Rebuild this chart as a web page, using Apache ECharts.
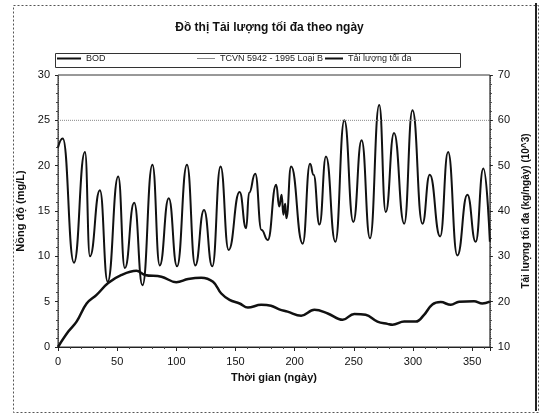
<!DOCTYPE html>
<html>
<head>
<meta charset="utf-8">
<script src="https://cdn.jsdelivr.net/npm/echarts@6/dist/echarts.min.js"></script>
<style>
html, body { margin: 0; padding: 0; background: #fff; }
#main { width: 539px; height: 413px; }
</style>
</head>
<body>
<div id="main"></div>
<script>
// BOD (mg/L) theo ngày - đỉnh và đáy
var bodDays = [0, 4, 13.5, 22.8, 27, 35.4, 42, 50.9, 56.5, 64.4, 71.4, 79.8, 86, 93.6, 100.6, 109, 116, 123.4, 130.4, 137.4, 144.2, 153.5, 159, 161.5, 166.7, 172, 177.3, 184.4, 187, 189, 190.5, 192, 193, 197, 206.8, 213, 216, 221, 226.5, 234.4, 242, 249.6, 256.6, 263.7, 271.5, 277, 284, 292.6, 299.6, 308, 314.2, 323, 329.7, 337.5, 346, 353, 359.5, 365];
var bodValues = [22.0, 23.0, 9.3, 21.5, 10.0, 17.3, 7.2, 18.8, 8.7, 15.9, 6.8, 20.1, 9.0, 16.4, 8.9, 20.1, 9.0, 15.1, 8.9, 19.9, 10.7, 17.1, 13.1, 17.0, 19.1, 12.9, 11.8, 17.9, 15.5, 16.8, 14.6, 15.8, 14.2, 19.9, 11.4, 20.2, 19.0, 13.5, 21.0, 11.6, 25.0, 13.8, 22.8, 12.0, 26.7, 14.9, 23.6, 13.6, 26.1, 13.6, 19.0, 12.2, 21.5, 10.1, 16.8, 11.6, 19.7, 11.6];

// Tải lượng tối đa (10^3 kg/ngày)
var loadDays = [0, 8.7, 15.7, 24.2, 32.6, 42.4, 53.7, 66.3, 73.4, 87.4, 100, 110, 121, 131, 138, 145, 153.5, 160.5, 171.7, 180, 187, 194, 205.5, 216.7, 228, 240.6, 250.4, 260, 270, 278.5, 282.7, 292.6, 302.4, 309.4, 316.4, 323.5, 332, 339, 351.6, 358.6, 365];
var loadValues = [10, 13.4, 15.6, 19.6, 21.5, 24.1, 25.9, 26.8, 25.9, 25.5, 24.3, 25.0, 25.3, 24.4, 21.8, 20.4, 19.6, 18.7, 19.3, 19.1, 18.3, 17.8, 16.9, 18.2, 17.4, 16.0, 17.3, 17.1, 15.6, 15.1, 14.9, 15.6, 15.6, 17.1, 19.4, 19.9, 19.3, 20.0, 20.1, 19.6, 20.0];

// TCVN 5942-1995 Loại B
var tcvnDays = [0, 365];
var tcvnValues = [25, 25];

var seriesNames = ['BOD', 'TCVN 5942 - 1995 Loại B', 'Tải lượng tối đa'];

function zip(xs, ys) {
    var out = [];
    for (var i = 0; i < xs.length; i++) out.push([xs[i], ys[i]]);
    return out;
}

var myChart = echarts.init(document.getElementById('main'));
var font = 'Liberation Sans, Arial, sans-serif';
var legendText = { fontFamily: font, fontSize: 9, color: '#222' };

var option = {
    backgroundColor: '#fff',
    animation: false,
    title: {
        text: 'Đồ thị Tải lượng tối đa theo ngày',
        left: 'center',
        top: 17,
        textStyle: { fontFamily: font, fontSize: 12, fontWeight: 'bold', color: '#111' }
    },
    legend: [
        { data: [seriesNames[0]], left: 57, top: 54, icon: 'rect', itemWidth: 24, itemHeight: 2, itemGap: 4, padding: 0, textStyle: legendText },
        { data: [seriesNames[1]], left: 197, top: 54, icon: 'rect', itemWidth: 18, itemHeight: 1, padding: 0, textStyle: legendText },
        { data: [seriesNames[2]], left: 325, top: 54, icon: 'rect', itemWidth: 18, itemHeight: 2, padding: 0, textStyle: legendText }
    ],
    grid: { left: 58, right: 47, top: 75, bottom: 66, show: true, borderColor: '#333', borderWidth: 1 },
    xAxis: {
        type: 'value', min: 0, max: 365, interval: 50,
        name: 'Thời gian (ngày)', nameLocation: 'middle', nameGap: 25,
        nameTextStyle: { fontFamily: font, fontSize: 11, fontWeight: 'bold', color: '#111' },
        axisLine: { lineStyle: { color: '#222' } },
        axisTick: { length: 4, lineStyle: { color: '#222' } },
        minorTick: { show: true, splitNumber: 5, length: 2, lineStyle: { color: '#444' } },
        axisLabel: { fontFamily: font, fontSize: 11, color: '#111', showMaxLabel: false, margin: 9 },
        splitLine: { show: false }
    },
    yAxis: [{
        type: 'value', min: 0, max: 30, interval: 5,
        name: 'Nồng độ (mg/L)', nameLocation: 'middle', nameGap: 26, nameRotate: 90,
        nameTextStyle: { fontFamily: font, fontSize: 11, fontWeight: 'bold', color: '#111' },
        axisLine: { show: true, lineStyle: { color: '#444', type: 'dotted' } },
        axisTick: { show: true, length: 3, lineStyle: { color: '#222' } },
        minorTick: { show: true, splitNumber: 5, length: 2, lineStyle: { color: '#444' } },
        axisLabel: { fontFamily: font, fontSize: 11, color: '#111', margin: 8 },
        splitLine: { show: false }
    }, {
        type: 'value', min: 10, max: 70, interval: 10, position: 'right',
        name: 'Tải lượng tối đa (kg/ngày) (10^3)', nameLocation: 'middle', nameGap: 30, nameRotate: 90,
        nameTextStyle: { fontFamily: font, fontSize: 10, fontWeight: 'bold', color: '#111' },
        axisLine: { show: true, lineStyle: { color: '#444', type: 'dotted' } },
        axisTick: { show: true, length: 3, lineStyle: { color: '#222' } },
        minorTick: { show: true, splitNumber: 5, length: 2, lineStyle: { color: '#444' } },
        axisLabel: { fontFamily: font, fontSize: 11, color: '#111', margin: 8 },
        splitLine: { show: false }
    }],
    series: [{
        name: seriesNames[0],
        type: 'line',
        yAxisIndex: 0,
        data: zip(bodDays, bodValues),
        smooth: 0.5,
        smoothMonotone: 'x',
        symbol: 'none',
        color: '#111',
        lineStyle: { color: '#111', width: 2 }
    }, {
        name: seriesNames[1],
        type: 'line',
        yAxisIndex: 0,
        data: zip(tcvnDays, tcvnValues),
        symbol: 'none',
        color: '#888',
        lineStyle: { color: '#888', width: 1, type: 'dotted' }
    }, {
        name: seriesNames[2],
        type: 'line',
        yAxisIndex: 1,
        data: zip(loadDays, loadValues),
        smooth: 0.4,
        symbol: 'none',
        color: '#111',
        lineStyle: { color: '#111', width: 2.5 }
    }],
    graphic: [
        // khung chú thích
        { type: 'rect', left: 53, top: 51, shape: { width: 405, height: 14 },
          style: { fill: 'none', stroke: '#333', lineWidth: 1 }, silent: true },
        // khung ngoài
        { type: 'rect', left: 11, top: 3, shape: { width: 525, height: 407 },
          style: { fill: 'none', stroke: '#555', lineWidth: 1, lineDash: [2, 2] }, silent: true },
        { type: 'line', shape: { x1: 536, y1: 3, x2: 536, y2: 411 },
          style: { stroke: '#222', lineWidth: 2 }, silent: true }
    ]
};
myChart.setOption(option);
</script>
</body>
</html>
